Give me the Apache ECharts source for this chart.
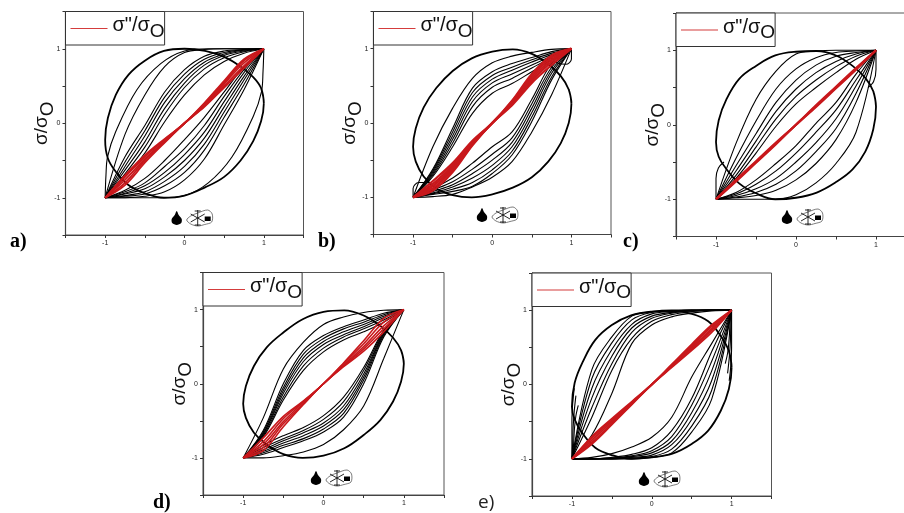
<!DOCTYPE html>
<html><head><meta charset="utf-8">
<style>html,body{margin:0;padding:0;background:#fff}#c{width:904px;height:513px}</style>
<script src="https://cdn.jsdelivr.net/npm/echarts@6/dist/echarts.min.js"></script>
</head><body><div id="c"></div>
<script>
const sampleX=[-1,-.75,-.5,-.25,0,.25,.5,.75,1];
const outerX=[1,.966,.866,.707,.5,.259,0,-.259,-.5,-.707,-.866,-.966,-1,-.966,-.866,-.707,-.5,-.259,0,.259,.5,.707,.866,.966,1,.966];
const tickLabels=[-1,0,1];
const panelLabels=['a)','b)','c)','d)','e)'];

const aOuter=[.27,.47,.62,.76,.89,.97,1,.97,.84,.65,.38,.07,-.22,-.47,-.65,-.83,-.94,-1,-.97,-.86,-.72,-.5,-.24,.03,.27,.47];
const aLens=[[[-1,-1],[-.99,-.7],[-.97,-.45],[-.87,-.12],[-.6,.45],[-.3,.8],[0,.97],[.3,1],[.7,1],[1,1],[.99,.7],[.97,.42],[.87,.1],[.6,-.45],[.3,-.8],[0,-.97],[-.3,-1],[-.7,-1],[-1,-1]]];
const aUpper=[[-1,-.15,.38,.76,.95,.99,1,1,1],[-1,-.45,-.03,.42,.72,.9,.97,.99,1],[-1,-.52,-.1,.35,.66,.86,.95,.985,1],[-1,-.58,-.17,.28,.6,.82,.93,.98,1],[-1,-.63,-.25,.2,.54,.78,.91,.97,1],[-1,-.68,-.32,.12,.48,.73,.88,.96,1],[-1,-.72,-.4,.02,.38,.65,.83,.94,1]];
const aLower=[[-1,-1,-.98,-.92,-.76,-.48,-.02,.45,1],[-1,-.98,-.95,-.84,-.66,-.36,.08,.52,1],[-1,-.97,-.92,-.78,-.58,-.28,.15,.58,1],[-1,-.95,-.88,-.72,-.5,-.2,.22,.63,1],[-1,-.94,-.84,-.66,-.42,-.12,.29,.68,1],[-1,-.92,-.8,-.58,-.34,-.03,.36,.72,1],[-1,-.9,-.74,-.5,-.22,.08,.42,.76,1]];
const aRed=[[-1,-.83,-.53,-.26,0,.22,.48,.74,1],[-1,-.8,-.5,-.25,0,.23,.5,.77,1],[-1,-.76,-.48,-.24,0,.24,.53,.81,1],[-1,-.72,-.45,-.22,0,.26,.55,.84,1],[-1,-.7,-.43,-.21,0,.27,.57,.86,1]];

const bOuter=[.26,.45,.63,.79,.93,.99,.96,.87,.7,.47,.21,-.07,-.32,-.52,-.72,-.88,-.97,-1,-.96,-.87,-.73,-.52,-.27,0,.26,.45];
const bLens=[[[-1,-1],[-1,-.88],[-.93,-.8],[-.82,-.8],[-.72,-.86]],[[1,1],[1,.86],[.93,.79],[.84,.8],[.74,.88]]];
const bUpper=[[-1,-.32,.2,.6,.81,.9,.95,.99,1],[-1,-.62,-.07,.47,.69,.8,.88,.96,1],[-1,-.64,-.12,.41,.64,.75,.85,.94,1],[-1,-.66,-.17,.35,.59,.71,.82,.92,1],[-1,-.68,-.22,.29,.54,.66,.78,.9,1],[-1,-.7,-.27,.22,.48,.6,.74,.88,1],[-1,-.72,-.32,.13,.4,.53,.69,.85,1]];
const bLower=[[-1,-.99,-.96,-.86,-.73,-.52,-.12,.38,1],[-1,-.96,-.92,-.85,-.68,-.43,.02,.58,1],[-1,-.95,-.89,-.8,-.63,-.38,.08,.62,1],[-1,-.94,-.86,-.74,-.57,-.32,.14,.67,1],[-1,-.92,-.83,-.68,-.5,-.26,.2,.71,1],[-1,-.9,-.79,-.62,-.42,-.2,.26,.75,1],[-1,-.88,-.74,-.54,-.32,-.12,.32,.8,1]];
const bRed=[[-1,-.91,-.66,-.3,0,.24,.54,.78,1],[-1,-.88,-.63,-.29,0,.26,.57,.82,1],[-1,-.85,-.6,-.27,0,.27,.6,.85,1],[-1,-.82,-.57,-.26,0,.29,.63,.88,1],[-1,-.78,-.54,-.24,0,.3,.66,.91,1]];

const cOuter=[.24,.45,.63,.79,.93,.99,.98,.93,.79,.62,.35,.06,-.23,-.43,-.6,-.79,-.92,-1,-.98,-.91,-.77,-.6,-.36,-.06,.24,.45];
const cLens=[[[-1,-1],[-1.0,-.72],[-.97,-.58],[-.9,-.5]],[[1,1],[1.0,.74],[.97,.58],[.9,.5]]];
const cUpper=[[-1,-.25,.34,.72,.95,.99,1,1,1],[-1,-.45,.05,.48,.75,.9,.97,.99,1],[-1,-.55,-.12,.3,.6,.8,.92,.97,1],[-1,-.62,-.22,.18,.48,.7,.85,.95,1],[-1,-.68,-.3,.08,.38,.6,.78,.92,1],[-1,-.72,-.38,-.02,.28,.5,.7,.88,1]];
const cLower=[[-1,-1,-1,-1,-.94,-.78,-.52,-.1,1],[-1,-.98,-.95,-.88,-.74,-.52,-.2,.3,1],[-1,-.97,-.91,-.8,-.62,-.36,-.05,.42,1],[-1,-.95,-.86,-.72,-.5,-.24,.08,.52,1],[-1,-.93,-.8,-.62,-.38,-.1,.2,.6,1],[-1,-.91,-.74,-.52,-.28,.02,.3,.68,1]];
const cRed=[[-1,-.76,-.51,-.26,0,.24,.49,.74,1],[-1,-.75,-.5,-.25,0,.25,.5,.75,1],[-1,-.74,-.49,-.24,0,.26,.51,.76,1]];

const dOuter=[.27,.45,.62,.78,.92,.99,.97,.87,.69,.49,.24,-.03,-.27,-.46,-.66,-.82,-.95,-1,-.97,-.87,-.69,-.49,-.24,.03,.27,.45];
const dLens=[];
const dUpper=[[-1,-.46,.2,.56,.8,.9,.96,.99,1],[-1,-.63,0,.45,.65,.77,.86,.95,1],[-1,-.65,-.05,.4,.61,.74,.83,.93,1],[-1,-.67,-.09,.35,.57,.7,.8,.91,1],[-1,-.68,-.13,.3,.53,.66,.77,.89,1],[-1,-.7,-.18,.24,.48,.63,.74,.86,1],[-1,-.72,-.22,.18,.43,.59,.7,.83,1]];
const dLower=[[-1,-1,-.97,-.92,-.82,-.62,-.3,.34,1],[-1,-.95,-.86,-.77,-.65,-.45,0,.63,1],[-1,-.93,-.83,-.74,-.61,-.4,.05,.65,1],[-1,-.91,-.8,-.7,-.57,-.35,.09,.67,1],[-1,-.89,-.77,-.66,-.53,-.3,.13,.68,1],[-1,-.86,-.74,-.63,-.48,-.24,.18,.7,1],[-1,-.83,-.7,-.59,-.43,-.18,.22,.72,1]];
const dRed=[[-1,-.9,-.58,-.28,0,.23,.44,.7,1],[-1,-.86,-.54,-.27,0,.24,.47,.74,1],[-1,-.82,-.51,-.25,0,.25,.5,.78,1],[-1,-.78,-.47,-.24,0,.27,.54,.83,1],[-1,-.73,-.44,-.23,0,.28,.58,.88,1]];

const eOuter=[.23,.45,.65,.85,.95,.99,.98,.93,.8,.6,.3,.02,-.3,-.47,-.66,-.85,-.95,-1,-.98,-.93,-.8,-.62,-.35,-.06,.23,.45];
const eLens=[[[-1,-1],[-1,-.75],[-1,-.5],[-.99,-.25],[-.97,-.05]],[[-1,-1],[-.99,-.78],[-.985,-.58],[-.97,-.35],[-.95,-.15]],[[-1,-1],[-.98,-.82],[-.97,-.62],[-.95,-.42],[-.92,-.28]],[[1,1],[1,.75],[1,.5],[.99,.25],[.97,.05]],[[1,1],[.99,.78],[.985,.58],[.97,.35],[.95,.15]],[[1,1],[.98,.82],[.97,.62],[.95,.42],[.92,.28]]];
const eUpper=[[-1,.2,.64,.92,.98,1,1,1,1],[-1,.08,.56,.87,.97,.99,1,1,1],[-1,-.05,.47,.81,.95,.98,1,1,1],[-1,-.18,.38,.76,.92,.97,.99,1,1],[-1,-.31,.28,.7,.89,.96,.99,1,1],[-1,-.44,.19,.62,.85,.94,.98,1,1],[-1,-.68,-.12,.55,.8,.91,.96,.99,1]];
const eLower=[[-1,-1,-1,-1,-.98,-.92,-.64,-.2,1],[-1,-1,-1,-.99,-.97,-.87,-.56,-.08,1],[-1,-1,-1,-.98,-.95,-.81,-.47,.05,1],[-1,-1,-.99,-.97,-.92,-.76,-.38,.18,1],[-1,-1,-.99,-.96,-.89,-.7,-.28,.31,1],[-1,-1,-.98,-.94,-.85,-.62,-.19,.44,1],[-1,-.98,-.93,-.84,-.71,-.44,.1,.55,1]];
const eRed=[[-1,-.8,-.54,-.27,0,.23,.46,.7,1],[-1,-.78,-.52,-.26,0,.24,.48,.73,1],[-1,-.75,-.5,-.25,0,.25,.5,.75,1],[-1,-.72,-.48,-.24,0,.26,.52,.78,1],[-1,-.7,-.46,-.23,0,.27,.54,.8,1]];

const panels=[
 {box:[65.5,11.5,238,223.5],outer:aOuter,lens:aLens,upper:aUpper,lower:aLower,red:aRed,redW:1.8,icon:[176.7,218],label:[10,232]},
 {box:[373.5,11.5,237.5,223],outer:bOuter,lens:bLens,upper:bUpper,lower:bLower,red:bRed,redW:2.2,icon:[482,215],label:[318,232]},
 {box:[676,13,240,223.5],outer:cOuter,lens:cLens,upper:cUpper,lower:cLower,red:cRed,redW:2.2,icon:[787,217],label:[623,232]},
 {box:[203,272.5,241,222.5],outer:dOuter,lens:dLens,upper:dUpper,lower:dLower,red:dRed,redW:1.6,icon:[316,478],label:[153,493]},
 {box:[532,273,239.5,223],outer:eOuter,lens:eLens,upper:eUpper,lower:eLower,red:eRed,redW:1.8,icon:[644,479],label:[478,493]}
];
const legendName='σ"/σO';
const richText={a:{fontFamily:'Liberation Sans',fontSize:20,color:'#111',padding:[0,0,6,0]},b:{fontFamily:'Liberation Sans',fontSize:19,color:'#111',padding:[6,0,0,0]}};
const option={animation:false,backgroundColor:'#fff',grid:[],xAxis:[],yAxis:[],series:[],legend:[],title:[],graphic:[]};
const axisBase={min:-1.5,max:1.5,interval:.5,splitLine:{show:false},
 axisLine:{onZero:false,lineStyle:{color:'#444',width:1.2}},axisTick:{length:3,lineStyle:{color:'#333'}}};
const lab=v=>tickLabels.includes(v)?String(v):'';
const zip=ys=>ys.map((y,i)=>[sampleX[i],y]);
panels.forEach((p,i)=>{
 const [l,t,w,h]=p.box;
 option.grid.push({left:l,top:t,width:w,height:h,show:true,borderColor:'#555',borderWidth:1,containLabel:false,outerBoundsMode:'none'});
 option.xAxis.push({...axisBase,type:'value',gridIndex:i,axisLabel:{formatter:lab,fontSize:7,fontFamily:'Liberation Sans',color:'#222',margin:5,hideOverlap:false,showMinLabel:true,showMaxLabel:true}});
 option.yAxis.push({...axisBase,type:'value',gridIndex:i,name:'{a|σ/σ}{b|O}',nameLocation:'middle',nameRotate:90,nameGap:8,nameMoveOverlap:false,
  nameTextStyle:{rich:{a:{fontFamily:'Liberation Sans',fontSize:19,color:'#111',padding:[0,0,6,0]},b:{fontFamily:'Liberation Sans',fontSize:19,color:'#111',padding:[6,0,0,0]}}},
  axisLabel:{formatter:lab,fontSize:7,fontFamily:'Liberation Sans',color:'#222',margin:5}});
 const line=(d,width,color,name,sm)=>option.series.push({type:'line',name,xAxisIndex:i,yAxisIndex:i,data:d,showSymbol:false,symbol:'none',smooth:sm||.35,silent:true,lineStyle:{color,width},itemStyle:{color},z:color==='#000'?2:3});
 line(p.outer.map((y,k)=>[outerX[k],y]),1.8,'#000',undefined,.4);
 p.lens.forEach(d=>line(d,1.1,'#000'));
 p.upper.forEach(y=>line(zip(y),1.1,'#000'));
 p.lower.forEach(y=>line(zip(y),1.1,'#000'));
 p.red.forEach(y=>line(zip(y),p.redW,'#c8181c',legendName));
 option.legend.push({data:[legendName],left:l,top:t,padding:[4,0,4,5],itemWidth:37,itemHeight:1,itemGap:4,icon:'rect',
  selectedMode:false,borderColor:'#333',borderWidth:1,backgroundColor:'#fff',z:10,itemStyle:{color:'#d43c3c'},
  formatter:()=>'{a|σ"/σ}{b|O}',textStyle:{rich:richText}});
 option.title.push({text:panelLabels[i],left:p.label[0],top:p.label[1],padding:0,
  textStyle:i===4?{fontFamily:'Open Sans',fontSize:19,fontWeight:'normal',color:'#222'}:{fontFamily:'Liberation Serif',fontSize:20,fontWeight:'bold',color:'#000'}});
 const [ix,iy]=p.icon;
 const seg=(x1,y1,x2,y2)=>({type:'line',shape:{x1,y1,x2,y2},style:{stroke:'#111',lineWidth:.9}});
 option.graphic.push({type:'group',x:ix,y:iy,silent:true,children:[
  {type:'polygon',shape:{points:[[0,-7],[2,-3],[5,1],[4.5,5],[0,7],[-4.5,5],[-5,1],[-2,-3]],smooth:.3},style:{fill:'#000'}},
  {type:'polygon',shape:{points:[[10,2],[14,-2],[21,-5],[31,-8],[35.5,-4],[35,4],[28,6.5],[21,8],[14,6]],smooth:.3},style:{fill:'none',stroke:'#444',lineWidth:.7}},
  seg(21,-8,21,8),seg(14,-4,28,4),seg(14,4,28,-4),seg(18,-7,24,-7),seg(18,7,24,7),
  {type:'rect',shape:{x:28,y:-1.5,width:6,height:4.5},style:{fill:'#000'}}
 ]});
});
const chart=echarts.init(document.getElementById('c'),null,{renderer:'canvas',width:904,height:513});
chart.setOption(option);
</script></body></html>
